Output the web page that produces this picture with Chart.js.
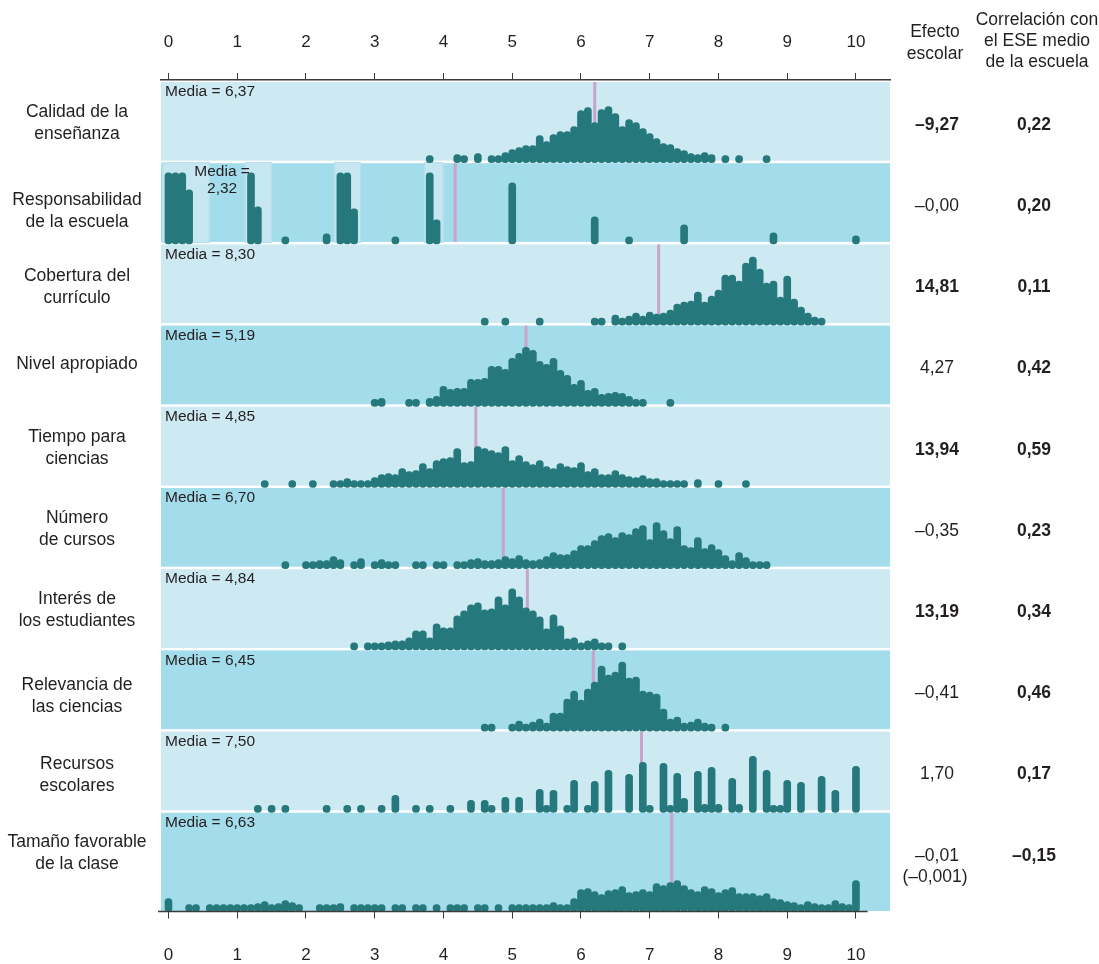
<!DOCTYPE html>
<html lang="es">
<head>
<meta charset="utf-8">
<title>Factores escolares y rendimiento en ciencias</title>
<script src="https://cdn.jsdelivr.net/npm/chart.js@4.4.1/dist/chart.umd.min.js"></script>
<style>
  html, body { margin: 0; padding: 0; background: #ffffff; }
  #wrap { width: 1099px; height: 964px; }
</style>
</head>
<body>
<div id="wrap"><canvas id="grafico" width="1099" height="964"></canvas></div>
<script>
// ---- Categorías (etiquetas de fila) ----
const categorias = [
  ['Calidad de la', 'enseñanza'],
  ['Responsabilidad', 'de la escuela'],
  ['Cobertura del', 'currículo'],
  ['Nivel apropiado'],
  ['Tiempo para', 'ciencias'],
  ['Número', 'de cursos'],
  ['Interés de', 'los estudiantes'],
  ['Relevancia de', 'las ciencias'],
  ['Recursos', 'escolares'],
  ['Tamaño favorable', 'de la clase']
];

// ---- Media declarada y posición de la línea de referencia ----
const mediaTexto = ['6,37', '2,32', '8,30', '5,19', '4,85', '6,70', '4,84', '6,45', '7,50', '6,63'];
const mediaLinea = [6.20, 4.17, 7.13, 5.20, 4.47, 4.87, 5.22, 6.18, 6.88, 7.32];

// ---- Columnas de la derecha ----
const efectoEscolar = ['–9,27', '–0,00', '14,81', '4,27', '13,94', '–0,35', '13,19', '–0,41', '1,70', '–0,01'];
const efectoNegrita = [true, false, true, false, true, false, true, false, false, false];
const efectoNota = ['', '', '', '', '', '', '', '', '', '(–0,001)'];
const correlacion = ['0,22', '0,20', '0,11', '0,42', '0,59', '0,23', '0,34', '0,46', '0,17', '–0,15'];

// ---- Marcas del eje ----
const ticksEje = [0, 1, 2, 3, 4, 5, 6, 7, 8, 9, 10];

// ---- Distribuciones: [puntuación, frecuencia apilada] ----
const calidad = [[3.8,7],[4.2,8],[4.3,7],[4.5,9],[4.7,7],[4.8,7],[4.9,10],[5.0,13],[5.1,15],[5.2,17],[5.3,17],[5.4,27],[5.5,21],[5.6,28],[5.7,31],[5.8,31],[5.9,36],[6.0,52],[6.1,55],[6.2,40],[6.3,53],[6.4,56],[6.5,49],[6.6,36],[6.7,43],[6.8,40],[6.9,34],[7.0,29],[7.1,24],[7.2,19],[7.3,18],[7.4,14],[7.5,12],[7.6,9],[7.7,8],[7.8,10],[7.9,8],[8.1,7],[8.3,7],[8.7,7]];
const responsabilidad = [[0.0,71],[0.1,71],[0.2,71],[0.3,54],[1.2,71],[1.3,37],[1.7,7],[2.3,10],[2.5,71],[2.6,71],[2.7,35],[3.3,7],[3.8,71],[3.9,24],[5.0,61],[6.2,27],[6.7,7],[7.5,19],[8.8,11],[10.0,8]];
const cobertura = [[4.6,7],[4.9,7],[5.4,7],[6.2,7],[6.3,7],[6.5,10],[6.6,7],[6.7,9],[6.8,12],[6.9,9],[7.0,13],[7.1,11],[7.2,12],[7.3,15],[7.4,21],[7.5,23],[7.6,24],[7.7,33],[7.8,23],[7.9,29],[8.0,35],[8.1,50],[8.2,50],[8.3,44],[8.4,62],[8.5,68],[8.6,56],[8.7,42],[8.8,44],[8.9,28],[9.0,49],[9.1,26],[9.2,18],[9.3,12],[9.4,8],[9.5,7]];
const nivel = [[3.0,7],[3.1,8],[3.5,7],[3.6,7],[3.8,8],[3.9,10],[4.0,20],[4.1,17],[4.2,18],[4.3,18],[4.4,27],[4.5,27],[4.6,28],[4.7,40],[4.8,40],[4.9,37],[5.0,48],[5.1,53],[5.2,59],[5.3,56],[5.4,45],[5.5,42],[5.6,48],[5.7,36],[5.8,31],[5.9,22],[6.0,26],[6.1,16],[6.2,18],[6.3,12],[6.4,13],[6.5,14],[6.6,13],[6.7,10],[6.8,7],[6.9,7],[7.3,7]];
const tiempo = [[1.4,7],[1.8,7],[2.1,7],[2.4,7],[2.5,7],[2.6,9],[2.7,7],[2.8,7],[2.9,7],[3.0,10],[3.1,13],[3.2,14],[3.3,13],[3.4,19],[3.5,16],[3.6,17],[3.7,24],[3.8,19],[3.9,27],[4.0,29],[4.1,30],[4.2,39],[4.3,25],[4.4,26],[4.5,41],[4.6,39],[4.7,37],[4.8,35],[4.9,41],[5.0,27],[5.1,32],[5.2,26],[5.3,23],[5.4,27],[5.5,21],[5.6,19],[5.7,24],[5.8,21],[5.9,20],[6.0,25],[6.1,16],[6.2,19],[6.3,13],[6.4,13],[6.5,17],[6.6,13],[6.7,11],[6.8,10],[6.9,12],[7.0,9],[7.1,9],[7.2,7],[7.3,7],[7.4,7],[7.5,7],[7.7,8],[8.0,7],[8.4,7]];
const cursos = [[1.7,7],[2.0,7],[2.1,7],[2.2,8],[2.3,8],[2.4,12],[2.5,9],[2.7,7],[2.8,10],[3.0,7],[3.1,9],[3.2,7],[3.3,7],[3.6,7],[3.7,7],[3.9,7],[4.0,7],[4.2,7],[4.3,7],[4.4,9],[4.5,10],[4.6,8],[4.7,8],[4.8,9],[4.9,12],[5.0,10],[5.1,13],[5.2,9],[5.3,8],[5.4,9],[5.5,12],[5.6,16],[5.7,14],[5.8,14],[5.9,18],[6.0,23],[6.1,23],[6.2,28],[6.3,33],[6.4,35],[6.5,31],[6.6,36],[6.7,34],[6.8,40],[6.9,43],[7.0,29],[7.1,46],[7.2,38],[7.3,30],[7.4,42],[7.5,23],[7.6,21],[7.7,31],[7.8,20],[7.9,24],[8.0,19],[8.1,13],[8.2,8],[8.3,16],[8.4,11],[8.5,7],[8.6,7],[8.7,7]];
const interes = [[2.7,7],[2.9,7],[3.0,7],[3.1,7],[3.2,8],[3.3,9],[3.4,9],[3.5,12],[3.6,19],[3.7,19],[3.8,12],[3.9,26],[4.0,22],[4.1,22],[4.2,34],[4.3,39],[4.4,45],[4.5,47],[4.6,40],[4.7,41],[4.8,53],[4.9,45],[5.0,61],[5.1,53],[5.2,42],[5.3,39],[5.4,33],[5.5,21],[5.6,35],[5.7,24],[5.8,11],[5.9,12],[6.0,7],[6.1,9],[6.2,11],[6.3,7],[6.4,7],[6.6,7]];
const relevancia = [[4.6,7],[4.7,7],[5.0,7],[5.1,10],[5.2,7],[5.3,9],[5.4,12],[5.5,8],[5.6,18],[5.7,18],[5.8,32],[5.9,40],[6.0,31],[6.1,42],[6.2,49],[6.3,65],[6.4,56],[6.5,59],[6.6,69],[6.7,53],[6.8,54],[6.9,40],[7.0,39],[7.1,37],[7.2,22],[7.3,12],[7.4,14],[7.5,8],[7.6,9],[7.7,12],[7.8,8],[7.9,7],[8.1,7]];
const recursos = [[1.3,7],[1.5,7],[1.7,7],[2.3,7],[2.6,7],[2.8,7],[3.1,7],[3.3,17],[3.6,7],[3.8,7],[4.1,7],[4.4,12],[4.6,12],[4.7,7],[4.9,15],[5.1,15],[5.4,23],[5.5,7],[5.6,22],[5.8,7],[5.9,32],[6.1,7],[6.2,31],[6.4,42],[6.7,38],[6.9,50],[7.0,7],[7.2,49],[7.3,7],[7.4,39],[7.5,14],[7.7,41],[7.8,8],[7.9,45],[8.0,8],[8.2,34],[8.3,8],[8.5,56],[8.7,42],[8.8,7],[8.9,7],[9.0,32],[9.2,30],[9.5,36],[9.7,22],[10.0,46]];
const tamano = [[0.0,13],[0.3,7],[0.4,7],[0.6,7],[0.7,7],[0.8,7],[0.9,7],[1.0,7],[1.1,7],[1.2,7],[1.3,8],[1.4,10],[1.5,7],[1.6,8],[1.7,11],[1.8,9],[1.9,7],[2.2,7],[2.3,7],[2.4,7],[2.5,8],[2.7,7],[2.8,7],[2.9,7],[3.0,7],[3.1,7],[3.3,7],[3.4,7],[3.6,7],[3.7,7],[3.9,7],[4.1,7],[4.2,7],[4.3,7],[4.5,7],[4.6,7],[4.8,7],[5.0,7],[5.1,7],[5.2,7],[5.3,7],[5.4,7],[5.5,7],[5.6,9],[5.7,7],[5.8,7],[5.9,13],[6.0,22],[6.1,23],[6.2,20],[6.3,17],[6.4,21],[6.5,22],[6.6,25],[6.7,19],[6.8,20],[6.9,22],[7.0,20],[7.1,28],[7.2,26],[7.3,29],[7.4,31],[7.5,26],[7.6,22],[7.7,20],[7.8,25],[7.9,23],[8.0,19],[8.1,22],[8.2,24],[8.3,18],[8.4,18],[8.5,18],[8.6,16],[8.7,18],[8.8,13],[8.9,12],[9.0,10],[9.1,9],[9.2,7],[9.3,10],[9.4,8],[9.5,7],[9.6,7],[9.7,11],[9.8,8],[9.9,7],[10.0,31]];

// Intervalos resaltados en la fila de responsabilidad
const resaltadoResponsabilidad = [[-0.09, 0.60], [1.11, 1.50], [2.41, 2.80], [3.72, 4.00]];

const series = [calidad, responsabilidad, cobertura, nivel, tiempo, cursos, interes, relevancia, recursos, tamano];

// ---- Geometría de las franjas (unidades del eje y, 1 unidad ≈ 1 px) ----
const FILA = 81.2;
const ULTIMA = 100.7;
const Y_MAX = FILA * 9 + ULTIMA;
function franja(i) {
  const top = i * FILA + 2;
  const bottom = i === 9 ? Y_MAX - 0.5 : (i + 1) * FILA - 0.5;
  const base = i === 9 ? Y_MAX : (i + 1) * FILA + 1.5;
  return { top, bottom, base };
}
// ajuste vertical fino de cada etiqueta de fila (px)
const ajusteEtiqueta = [0, 7, 2, -2, 0, 0, 0, 5, 3, -1];

const X_MIN = -0.109, X_MAX = 10.495;
const FUENTE = '"Liberation Sans", Arial, Helvetica, sans-serif';
const TEXTO = '#231f20';
const PUNTO = '#25787c';
const CLARO = '#cdeaf3';
const OSCURO = '#a3dcea';
const ROSA = '#c9a3ca';

const datasets = series.map((serie, i) => {
  const f = franja(i);
  return {
    label: categorias[i].join(' '),
    data: serie.map(([x, h]) => ({ x: x, y: [f.base, f.base - h] })),
    backgroundColor: PUNTO,
    barThickness: 7,
    borderRadius: 3.5,
    borderSkipped: false,
    grouped: false,
    order: 1
  };
});
datasets.push({
  label: 'Línea de media',
  data: mediaLinea.map((m, i) => { const f = franja(i); return { x: m, y: [f.top, f.bottom] }; }),
  backgroundColor: ROSA,
  barThickness: 3,
  borderRadius: 0,
  borderSkipped: false,
  grouped: false,
  inflateAmount: 0,
  order: 5
});

const decoracion = {
  id: 'decoracion',
  beforeDatasetsDraw(chart) {
    const { ctx, chartArea, scales } = chart;
    const x = scales.x, y = scales.y;
    ctx.save();
    for (let i = 0; i < categorias.length; i++) {
      const f = franja(i);
      const t = y.getPixelForValue(f.top), b = y.getPixelForValue(f.bottom);
      ctx.fillStyle = i % 2 === 0 ? CLARO : OSCURO;
      ctx.fillRect(chartArea.left, t, chartArea.right - chartArea.left, b - t);
    }
    // recuadros más claros de la fila 2
    const f2 = franja(1);
    const t2 = y.getPixelForValue(f2.top) - 1, b2 = y.getPixelForValue(f2.bottom) + 1;
    resaltadoResponsabilidad.forEach(([a, z]) => {
      const xa = Math.max(x.getPixelForValue(a), chartArea.left + 1);
      const xz = x.getPixelForValue(z);
      ctx.fillStyle = '#c6e7f1';
      ctx.fillRect(xa, t2, xz - xa, b2 - t2);
      ctx.strokeStyle = '#b4dfeb';
      ctx.lineWidth = 1;
      ctx.strokeRect(xa + 0.5, t2 + 0.5, xz - xa - 1, b2 - t2 - 1);
    });
    ctx.restore();
  },
  afterDatasetsDraw(chart) {
    const { ctx, chartArea, scales } = chart;
    const x = scales.x, y = scales.y;
    ctx.save();
    ctx.fillStyle = TEXTO;
    ctx.textBaseline = 'middle';

    // línea del eje inferior
    const yb = scales.x2.top;
    ctx.strokeStyle = '#3a3a3a';
    ctx.lineWidth = 1.5;
    ctx.beginPath();
    ctx.moveTo(chartArea.left - 3, yb);
    ctx.lineTo(x.getPixelForValue(10.17), yb);
    ctx.stroke();

    for (let i = 0; i < categorias.length; i++) {
      const f = franja(i);
      const top = y.getPixelForValue(f.top);
      const centro = top + 41;

      // etiqueta de fila
      ctx.font = '17.5px ' + FUENTE;
      ctx.textAlign = 'center';
      const lineas = categorias[i];
      lineas.forEach((l, k) => {
        ctx.fillText(l, 77, centro + ajusteEtiqueta[i] + (k - (lineas.length - 1) / 2) * 22);
      });

      // media
      ctx.font = '15.5px ' + FUENTE;
      if (i === 1) {
        const xm = x.getPixelForValue(0.78);
        ctx.textAlign = 'center';
        ctx.fillText('Media =', xm, top + 9);
        ctx.fillText(mediaTexto[i], xm, top + 26);
      } else {
        ctx.textAlign = 'left';
        ctx.fillText('Media = ' + mediaTexto[i], chartArea.left + 4, top + 10);
      }

      // efecto escolar
      ctx.textAlign = 'center';
      ctx.font = (efectoNegrita[i] ? 'bold ' : '') + '17.5px ' + FUENTE;
      ctx.fillText(efectoEscolar[i], 937, centro + 2);
      if (efectoNota[i]) {
        ctx.font = '17.5px ' + FUENTE;
        ctx.fillText(efectoNota[i], 935, centro + 23);
      }
      // correlación
      ctx.font = 'bold 17.5px ' + FUENTE;
      ctx.fillText(correlacion[i], 1034, centro + 2);
    }

    // encabezados
    ctx.font = '17.5px ' + FUENTE;
    ctx.textAlign = 'center';
    ctx.fillText('Efecto', 935, 32);
    ctx.fillText('escolar', 935, 54);
    ctx.fillText('Correlación con', 1037, 20);
    ctx.fillText('el ESE medio', 1037, 41);
    ctx.fillText('de la escuela', 1037, 62);
    ctx.restore();
  }
};

function ejeX(posicion, alto, relleno, conBorde) {
  return {
    type: 'linear',
    position: posicion,
    min: X_MIN,
    max: X_MAX,
    offset: false,
    afterBuildTicks(scale) { scale.ticks = ticksEje.map(v => ({ value: v })); },
    afterFit(scale) { scale.height = alto; },
    ticks: {
      stepSize: 1,
      includeBounds: false,
      autoSkip: false,
      maxRotation: 0,
      color: TEXTO,
      padding: relleno,
      font: { family: FUENTE, size: 17 },
      callback: v => String(v)
    },
    grid: { offset: false, drawOnChartArea: false, drawTicks: true, tickLength: 7, color: '#3a3a3a', lineWidth: 1 },
    border: { display: conBorde, color: '#3a3a3a', width: 1.5 }
  };
}

new Chart(document.getElementById('grafico'), {
  type: 'bar',
  data: { datasets },
  options: {
    responsive: false,
    animation: false,
    devicePixelRatio: 1,
    layout: { padding: { left: 161, right: 209, top: 0, bottom: 0 } },
    plugins: { legend: { display: false }, tooltip: { enabled: false } },
    scales: {
      x: ejeX('top', 80, 20, true),
      x2: ejeX('bottom', 52.5, 27, false),
      y: { type: 'linear', reverse: true, min: 0, max: Y_MAX, display: false }
    }
  },
  plugins: [decoracion]
});
</script>
</body>
</html>
